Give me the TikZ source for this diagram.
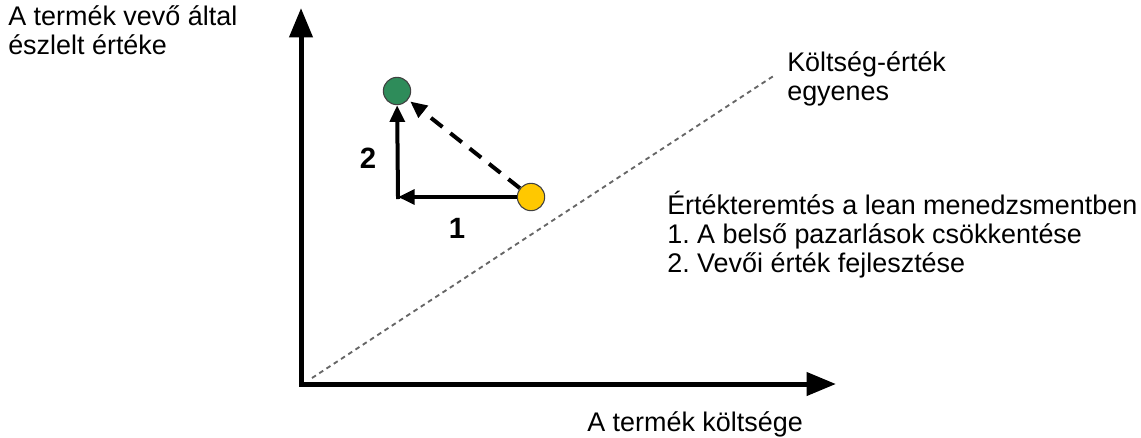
\documentclass[tikz,border=0pt]{standalone}
\usepackage{fontspec}
\setmainfont{Liberation Sans}
\usetikzlibrary{arrows.meta}
\definecolor{dotgreen}{RGB}{46,140,90}
\definecolor{dotyellow}{RGB}{255,200,0}
\frenchspacing
\begin{document}
\begin{tikzpicture}[x=0.75pt,y=-0.75pt,
  lbl/.style={inner sep=0pt,font=\fontsize{20.2}{21.4}\selectfont,align=left},
  numlbl/.style={inner sep=0pt,font=\fontsize{22}{24}\selectfont\bfseries},
  axis/.style={line width=3.75pt,-{Triangle[length=22pt,width=17pt]}},
  arr/.style={line width=3pt,-{Triangle[length=12.5pt,width=11pt]}},
  dot/.style={circle,draw=black!75,line width=0.8pt,minimum size=20.5pt,inner sep=0pt}]
\useasboundingbox (0,0) rectangle (1141,437);
% axes
\coordinate (O) at (301,384);
\coordinate (ytop) at (301,8);
\coordinate (xend) at (836,384);
\draw[axis,line cap=rect] (O) -- (ytop);
\draw[axis] (O) -- (xend);
% cost-value line
\coordinate (d1) at (312,378);
\coordinate (d2) at (775,75);
\draw[black!60,line width=1.4pt,dash pattern=on 3.5pt off 3pt] (d1) -- (d2);
% points
\node[dot,fill=dotgreen] (G) at (397,91) {};
\node[dot,fill=dotyellow] (Y) at (531,197) {};
\coordinate (C) at (398,197);
\draw[arr] (Y) -- (C);
\draw[arr,line cap=rect] (C) -- (G);
\draw[arr,dash pattern=on 11pt off 7.5pt,shorten >=2pt] (Y) -- (G);
% labels
\node[numlbl] (n2) at (368,158) {2};
\node[numlbl] (n1) at (457,228) {1};
\node[lbl,anchor=base west] (ylab) at (8,54) {A termék vevő által\\észlelt értéke};
\node[lbl,anchor=base west] (xlab) at (587,431) {A termék költsége};
\node[lbl,anchor=base west] (cv) at (787,100) {Költség-érték\\egyenes};
\node[lbl,anchor=base west] (lean) at (667,272) {Értékteremtés a lean menedzsmentben\\1. A belső pazarlások csökkentése\\2. Vevői érték fejlesztése};
\end{tikzpicture}
\end{document}
